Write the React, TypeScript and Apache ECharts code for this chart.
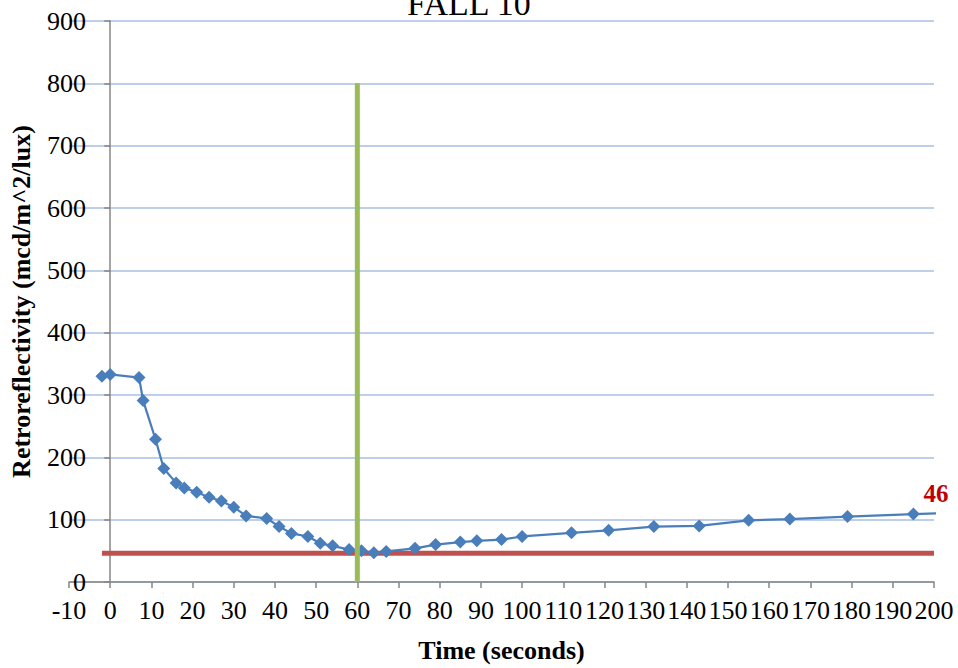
import React, { useEffect, useRef } from "react";
import * as echarts from "echarts";

const timeSec = [-2, 0, 7, 8, 11, 13, 16, 18, 21, 24, 27, 30, 33, 38, 41, 44, 48, 51, 54, 58, 61, 64, 67, 74, 79, 85, 89, 95, 100, 112, 121, 132, 143, 155, 165, 179, 195, 210];
const retro = [330, 333, 328, 291, 229, 182, 159, 151, 144, 136, 130, 120, 106, 102, 89, 78, 73, 62, 58, 52, 50, 47, 49, 54, 60, 64, 66, 68, 73, 79, 83, 89, 90, 99, 101, 105, 109, 112];

const thresholdX = [-2, 200];
const thresholdY = 46;
const markerX = 60;
const markerY = [0, 800];

const titleText = "FALL 10";
const xName = "Time (seconds)";
const yName = "Retroreflectivity (mcd/m^2/lux)";

const FONT = "'Liberation Serif', 'Times New Roman', serif";

export default function App() {
  const ref = useRef<HTMLDivElement>(null);
  useEffect(() => {
    if (!ref.current) return;
    const chart = echarts.init(ref.current, undefined, { renderer: "svg" });
    const blueData = timeSec.map((t, i) => [t, retro[i]]);
    const redData: any[] = [
      [thresholdX[0], thresholdY],
      {
        value: [thresholdX[1], thresholdY],
        label: {
          show: true,
          position: "top",
          offset: [2, -42],
          formatter: (p: any) => String(p.value[1]),
          color: "#C00000",
          fontWeight: "bold",
          fontSize: 25,
          fontFamily: FONT,
        },
      },
    ];
    const greenData = markerY.map((y) => [markerX, y]);
    chart.setOption({
      animation: false,
      backgroundColor: "#ffffff",
      title: {
        text: titleText,
        left: 407,
        top: -14,
        padding: 0,
        textStyle: { fontFamily: FONT, fontSize: 34, fontWeight: "normal", color: "#000" },
      },
      grid: { left: 66, right: 24, top: 21, bottom: 86, containLabel: false },
      xAxis: {
        type: "value",
        min: -10,
        max: 200,
        interval: 10,
        name: xName,
        nameLocation: "middle",
        nameGap: 55,
        nameTextStyle: { fontFamily: FONT, fontSize: 26, fontWeight: "bold", color: "#000" },
        axisLine: { show: true, onZero: false, lineStyle: { color: "#868686", width: 1.5 } },
        axisTick: { show: true, length: 6, lineStyle: { color: "#868686", width: 1.5 } },
        axisLabel: {
          fontFamily: FONT,
          fontSize: 26,
          color: "#000",
          margin: 15,
          showMinLabel: true,
          showMaxLabel: true,
        },
        splitLine: { show: false },
      },
      yAxis: [
        {
          type: "value",
          min: 0,
          max: 900,
          interval: 100,
          name: yName,
          nameLocation: "middle",
          nameGap: 35,
          nameTextStyle: { fontFamily: FONT, fontSize: 26, fontWeight: "bold", color: "#000" },
          axisLine: { show: false },
          axisTick: { show: false },
          axisLabel: { fontFamily: FONT, fontSize: 26, color: "#000", margin: -17 },
          splitLine: { show: true, lineStyle: { color: "#A7BFE4", width: 1.5 } },
        },
        {
          type: "value",
          min: 0,
          max: 900,
          interval: 100,
          position: "left",
          axisLine: { show: true, onZero: true, onZeroAxisIndex: 0, lineStyle: { color: "#868686", width: 1.5 } },
          axisTick: { show: true, length: 6, lineStyle: { color: "#868686", width: 1.5 } },
          axisLabel: { show: false },
          splitLine: { show: false },
        },
      ],
      series: [
        {
          type: "line",
          data: redData,
          yAxisIndex: 0,
          symbol: "circle",
          symbolSize: 0,
          showSymbol: true,
          lineStyle: { color: "#C0504D", width: 5 },
          itemStyle: { color: "#C0504D" },
          z: 2,
        },
        {
          type: "line",
          data: blueData,
          yAxisIndex: 0,
          symbol: "diamond",
          symbolSize: 13,
          lineStyle: { color: "#4A7EBB", width: 2.25 },
          itemStyle: { color: "#4A7EBB" },
          clip: true,
          z: 3,
        },
        {
          type: "line",
          data: greenData,
          yAxisIndex: 0,
          symbol: "none",
          lineStyle: { color: "#9BBB59", width: 5 },
          itemStyle: { color: "#9BBB59" },
          z: 4,
        },
      ],
    });
    return () => chart.dispose();
  }, []);
  return (
    <div
      ref={ref}
      style={{ position: "fixed", left: 0, top: 0, width: 958, height: 668, background: "#fff" }}
    />
  );
}
